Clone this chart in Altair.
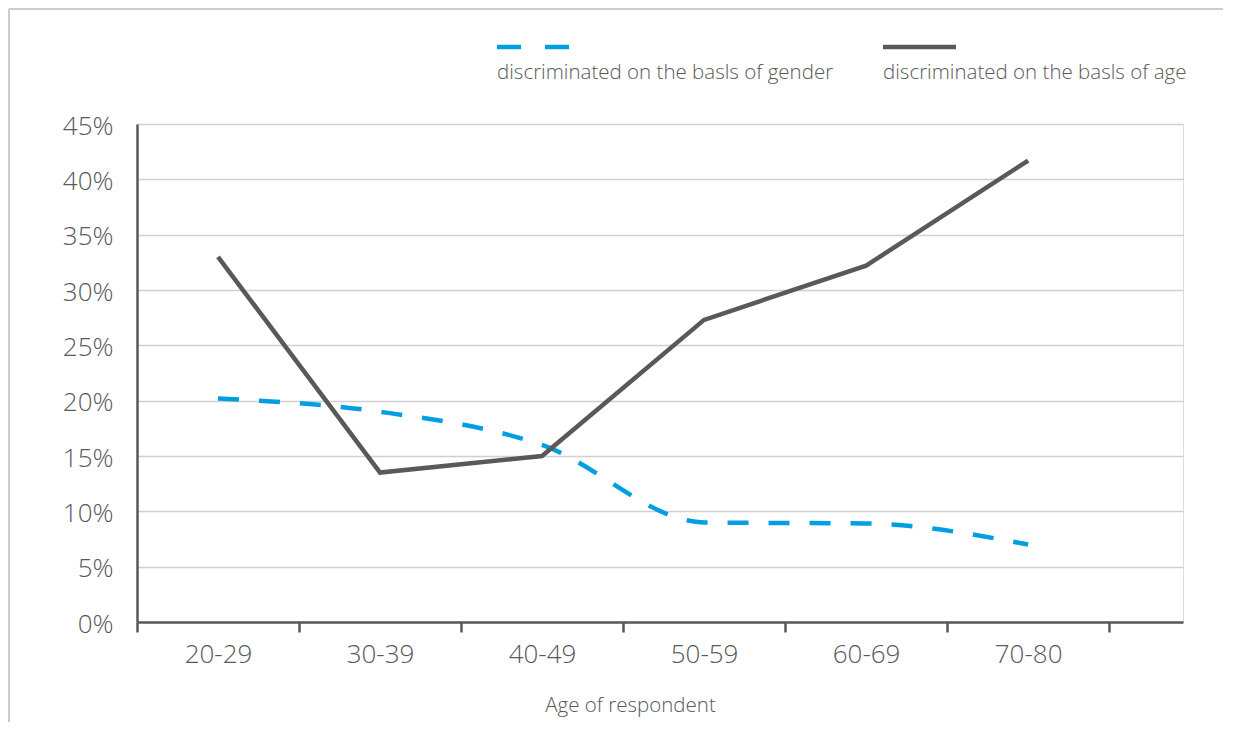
import altair as alt
import pandas as pd

ages = ["20-29", "30-39", "40-49", "50-59", "60-69", "70-80"]
gender = [20.2, 19.0, 16.0, 9.0, 8.9, 7.0]
age_disc = [33.0, 13.5, 15.0, 27.3, 32.2, 41.7]
series_names = ["discriminated on the basls of gender", "discriminated on the basls of age"]
y_ticks = [0, 5, 10, 15, 20, 25, 30, 35, 40, 45]

BLUE = "#009fe3"
GREY = "#595959"
FONT = "Open Sans"

df = pd.DataFrame(
    [{"age": a, "value": v, "series": series_names[0]} for a, v in zip(ages, gender)]
    + [{"age": a, "value": v, "series": series_names[1]} for a, v in zip(ages, age_disc)]
)

W, H = 1046, 498

x_enc = alt.X(
    "age:N",
    sort=ages,
    scale=alt.Scale(type="band", paddingInner=0, paddingOuter=0.228, align=0),
    axis=alt.Axis(
        title="Age of respondent",
        titleX=493,
        titleAlign="center",
        labelAngle=0,
        tickBand="extent",
        domainColor=GREY,
        domainWidth=2.5,
        tickColor=GREY,
        tickWidth=2.5,
        tickSize=10,
        labelFont=FONT,
        labelFontSize=26,
        labelFontWeight=300,
        labelColor=GREY,
        labelPadding=9,
        titleFont=FONT,
        titleFontSize=20.5,
        titleFontWeight=300,
        titleColor=GREY,
        titlePadding=28,
        grid=False,
    ),
)
y_enc = alt.Y(
    "value:Q",
    scale=alt.Scale(domain=[0, 45], nice=False),
    axis=alt.Axis(
        title=None,
        values=y_ticks,
        labelExpr="datum.value + '%'",
        ticks=False,
        domainColor=GREY,
        domainWidth=2.5,
        gridColor="#d0d0d0",
        gridWidth=1.5,
        labelFont=FONT,
        labelFontSize=26,
        labelFontWeight=300,
        labelColor=GREY,
        labelPadding=24,
        labelOffset=2,
    ),
)

base = alt.Chart(df)

gender_line = base.transform_filter(alt.datum.series == series_names[0]).mark_line(
    color=BLUE, strokeWidth=4.5, strokeDash=[21, 20], interpolate="monotone"
).encode(x=x_enc, y=y_enc)

age_line = base.transform_filter(alt.datum.series == series_names[1]).mark_line(
    color=GREY, strokeWidth=4.5
).encode(x=x_enc, y=y_enc)

# custom legend (symbol above label)
leg = alt.Chart(pd.DataFrame({"series": series_names}))
leg_gender_sym = leg.transform_filter(alt.datum.series == series_names[0]).mark_rule(
    color=BLUE, strokeWidth=4.5, strokeDash=[24, 24]
).encode(x=alt.value(360), x2=alt.value(433), y=alt.value(-77))
leg_age_sym = leg.transform_filter(alt.datum.series == series_names[1]).mark_rule(
    color=GREY, strokeWidth=4.5
).encode(x=alt.value(746), x2=alt.value(819), y=alt.value(-77))
leg_gender_txt = leg.transform_filter(alt.datum.series == series_names[0]).mark_text(
    align="left", baseline="middle", font=FONT, fontSize=20.5, fontWeight=300, color=GREY
).encode(x=alt.value(360), y=alt.value(-51), text="series:N")
leg_age_txt = leg.transform_filter(alt.datum.series == series_names[1]).mark_text(
    align="left", baseline="middle", font=FONT, fontSize=20.5, fontWeight=300, color=GREY
).encode(x=alt.value(746), y=alt.value(-51), text="series:N")

# outer frame
frame_top = leg.transform_filter(alt.datum.series == series_names[0]).mark_rule(
    color="#cccccc", strokeWidth=2
).encode(x=alt.value(-128), x2=alt.value(1090), y=alt.value(-115))
frame_left = leg.transform_filter(alt.datum.series == series_names[0]).mark_rule(
    color="#cccccc", strokeWidth=2
).encode(x=alt.value(-128), y=alt.value(-115), y2=alt.value(H + 110))

chart = alt.layer(
    frame_top, frame_left, gender_line, age_line,
    leg_gender_sym, leg_age_sym, leg_gender_txt, leg_age_txt,
).properties(
    width=W,
    height=H,
    autosize=alt.AutoSizeParams(type="none"),
    padding={"left": 129, "top": 116, "right": 40, "bottom": 100},
).configure_view(strokeWidth=0).configure(background="white")

chart.save("out.html", embed_options={"renderer": "svg", "actions": False})
